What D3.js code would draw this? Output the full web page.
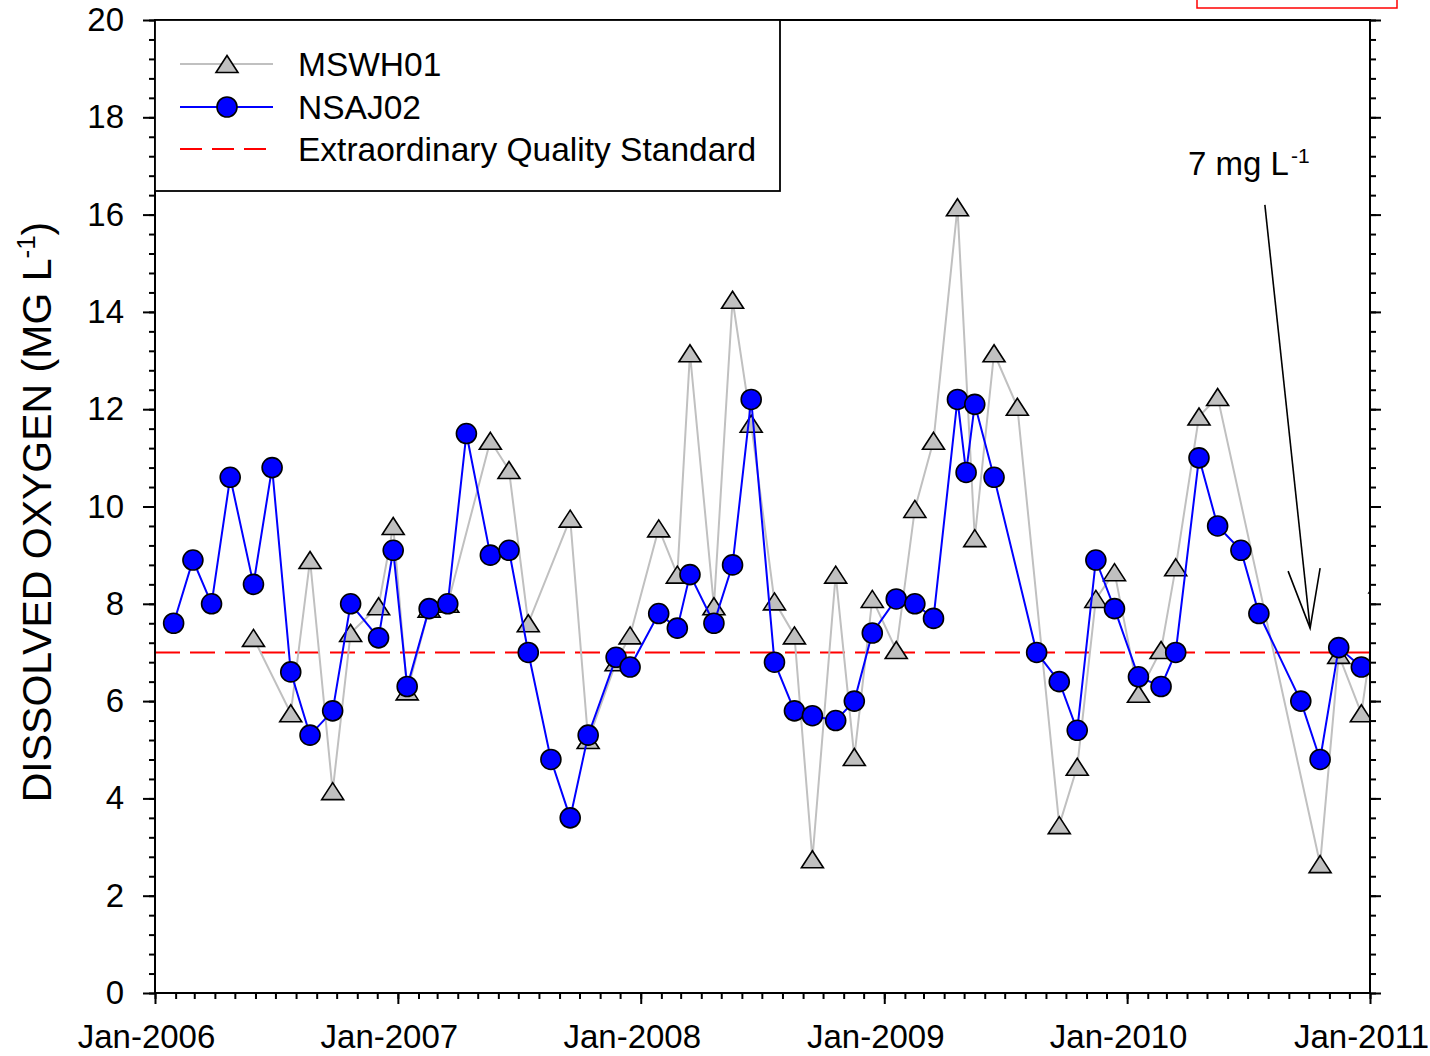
<!DOCTYPE html>
<html>
<head>
<meta charset="utf-8">
<script src="https://cdn.jsdelivr.net/npm/d3@7"></script>
<style>
  body { margin: 0; background: #fff; }
  svg { display: block; }
  text { font-family: "Liberation Sans", Arial, Helvetica, sans-serif; fill: #000; }
</style>
</head>
<body>
<svg id="chart" width="1430" height="1056"></svg>
<script>
// NSAJ02 sampling dates and dissolved oxygen (mg/L)
const nsajDates = [
  "2006-01-29", "2006-02-27", "2006-03-27", "2006-04-24", "2006-05-29", "2006-06-26",
  "2006-07-24", "2006-08-22", "2006-09-25", "2006-10-22", "2006-12-03", "2006-12-25",
  "2007-01-15", "2007-02-17", "2007-03-17", "2007-04-14", "2007-05-20", "2007-06-17",
  "2007-07-16", "2007-08-19", "2007-09-17", "2007-10-14", "2007-11-25", "2007-12-16",
  "2008-01-28", "2008-02-25", "2008-03-15", "2008-04-20", "2008-05-18", "2008-06-15",
  "2008-07-20", "2008-08-19", "2008-09-15", "2008-10-20", "2008-11-17", "2008-12-14",
  "2009-01-19", "2009-02-16", "2009-03-16", "2009-04-21", "2009-05-04", "2009-05-17",
  "2009-06-15", "2009-08-18", "2009-09-21", "2009-10-18", "2009-11-15", "2009-12-13",
  "2010-01-18", "2010-02-21", "2010-03-15", "2010-04-19", "2010-05-17", "2010-06-21",
  "2010-07-18", "2010-09-19", "2010-10-18", "2010-11-15", "2010-12-19"
];
const nsajValues = [
  7.6, 8.9, 8.0, 10.6, 8.4, 10.8,
  6.6, 5.3, 5.8, 8.0, 7.3, 9.1,
  6.3, 7.9, 8.0, 11.5, 9.0, 9.1,
  7.0, 4.8, 3.6, 5.3, 6.9, 6.7,
  7.8, 7.5, 8.6, 7.6, 8.8, 12.2,
  6.8, 5.8, 5.7, 5.6, 6.0, 7.4,
  8.1, 8.0, 7.7, 12.2, 10.7, 12.1,
  10.6, 7.0, 6.4, 5.4, 8.9, 7.9,
  6.5, 6.3, 7.0, 11.0, 9.6, 9.1,
  7.8, 6.0, 4.8, 7.1, 6.7
];

// MSWH01 sampling dates and dissolved oxygen (mg/L)
const mswhDates = [
  "2006-05-29", "2006-07-24", "2006-08-22", "2006-09-25", "2006-10-22", "2006-12-03",
  "2006-12-25", "2007-01-15", "2007-02-17", "2007-03-17", "2007-05-20", "2007-06-17",
  "2007-07-16", "2007-09-17", "2007-10-14", "2007-11-25", "2007-12-16", "2008-01-28",
  "2008-02-25", "2008-03-15", "2008-04-20", "2008-05-18", "2008-06-15", "2008-07-20",
  "2008-08-19", "2008-09-15", "2008-10-20", "2008-11-17", "2008-12-14", "2009-01-19",
  "2009-02-16", "2009-03-16", "2009-04-21", "2009-05-17", "2009-06-15", "2009-07-20",
  "2009-09-21", "2009-10-18", "2009-11-15", "2009-12-13", "2010-01-18", "2010-02-21",
  "2010-03-15", "2010-04-19", "2010-05-17", "2010-10-18", "2010-11-15", "2010-12-19",
  "2011-01-16"
];
const mswhValues = [
  7.3, 5.75, 8.9, 4.15, 7.4, 7.95,
  9.6, 6.2, 7.9, 8.0, 11.35, 10.75,
  7.6, 9.75, 5.2, 6.8, 7.35, 9.55,
  8.6, 13.15, 7.95, 14.25, 11.7, 8.05,
  7.35, 2.75, 8.6, 4.85, 8.1, 7.05,
  9.95, 11.35, 16.15, 9.35, 13.15, 12.05,
  3.45, 4.65, 8.1, 8.65, 6.15, 7.05,
  8.75, 11.85, 12.25, 2.65, 6.95, 5.75,
  8.4
];

const standardValue = 7;
const yMajorTicks = [0, 2, 4, 6, 8, 10, 12, 14, 16, 18, 20];
const xTickLabels = ["Jan-2006", "Jan-2007", "Jan-2008", "Jan-2009", "Jan-2010", "Jan-2011"];
const seriesNames = ["MSWH01", "NSAJ02", "Extraordinary Quality Standard"];

const parse = d3.timeParse("%Y-%m-%d");
const nsaj = nsajDates.map((d, i) => ({ date: parse(d), value: nsajValues[i] }));
const mswh = mswhDates.map((d, i) => ({ date: parse(d), value: mswhValues[i] }));

const plotLeft = 155, plotRight = 1370, plotTop = 20, plotBottom = 993;
const svg = d3.select("#chart");

const x = d3.scaleTime()
  .domain([new Date(2006, 0, 1), new Date(2011, 0, 1)])
  .range([plotLeft, plotRight]);
const y = d3.scaleLinear().domain([0, 20]).range([plotBottom, plotTop]);

// clip for the data
svg.append("defs").append("clipPath").attr("id", "plotclip")
  .append("rect")
  .attr("x", plotLeft).attr("y", plotTop)
  .attr("width", plotRight - plotLeft).attr("height", plotBottom - plotTop);

const line = d3.line().x(d => x(d.date)).y(d => y(d.value));
const triPath = "M0,-8.5L11,8.5L-11,8.5Z";

// red dashed standard line
svg.append("line")
  .attr("x1", plotLeft).attr("x2", plotRight)
  .attr("y1", y(standardValue)).attr("y2", y(standardValue))
  .attr("stroke", "#ff0000").attr("stroke-width", 2)
  .attr("stroke-dasharray", "25,10");

const plot = svg.append("g").attr("clip-path", "url(#plotclip)");

// MSWH01 - grey line with triangles
plot.append("path")
  .datum(mswh)
  .attr("d", line)
  .attr("fill", "none")
  .attr("stroke", "#c0c0c0")
  .attr("stroke-width", 2);

plot.selectAll(".tri")
  .data(mswh)
  .enter()
  .append("path")
  .attr("class", "tri")
  .attr("d", triPath)
  .attr("transform", d => "translate(" + x(d.date) + "," + y(d.value) + ")")
  .attr("fill", "#c0c0c0")
  .attr("stroke", "#000")
  .attr("stroke-width", 1.6);

// NSAJ02 - blue line with circles
plot.append("path")
  .datum(nsaj)
  .attr("d", line)
  .attr("fill", "none")
  .attr("stroke", "#0000ff")
  .attr("stroke-width", 2);

plot.selectAll(".dot")
  .data(nsaj)
  .enter()
  .append("circle")
  .attr("class", "dot")
  .attr("cx", d => x(d.date))
  .attr("cy", d => y(d.value))
  .attr("r", 10)
  .attr("fill", "#0000ff")
  .attr("stroke", "#000")
  .attr("stroke-width", 1.6);

// axes
const axisStyle = g => {
  g.selectAll(".domain").remove();
  g.selectAll("line").attr("stroke", "#000").attr("stroke-width", 2);
  g.selectAll("text").attr("font-size", "33px")
    .style("font-family", '"Liberation Sans", Arial, sans-serif');
};

// left y axis, major + minor
svg.append("g")
  .attr("transform", "translate(" + plotLeft + ",0)")
  .call(d3.axisLeft(y).tickValues(yMajorTicks).tickSize(12).tickPadding(19).tickFormat(d3.format("d")))
  .call(axisStyle);
svg.append("g")
  .attr("transform", "translate(" + plotLeft + ",0)")
  .call(d3.axisLeft(y).tickValues(d3.range(0, 20.001, 0.4)).tickSize(6).tickFormat(""))
  .call(axisStyle);

// right y axis, ticks outward
svg.append("g")
  .attr("transform", "translate(" + plotRight + ",0)")
  .call(d3.axisRight(y).tickValues(yMajorTicks).tickSize(11).tickFormat(""))
  .call(axisStyle);
svg.append("g")
  .attr("transform", "translate(" + plotRight + ",0)")
  .call(d3.axisRight(y).tickValues(d3.range(0, 20.001, 0.4)).tickSize(6).tickFormat(""))
  .call(axisStyle);

// bottom x axis
const years = d3.timeYear.range(new Date(2006, 0, 1), new Date(2011, 0, 2));
svg.append("g")
  .attr("transform", "translate(0," + plotBottom + ")")
  .call(d3.axisBottom(x).tickValues(years).tickSize(11).tickPadding(21)
    .tickFormat((d, i) => xTickLabels[i]))
  .call(axisStyle)
  .call(g => g.selectAll("text").attr("x", -9));
svg.append("g")
  .attr("transform", "translate(0," + plotBottom + ")")
  .call(d3.axisBottom(x).tickValues(d3.timeMonth.range(new Date(2006, 0, 1), new Date(2011, 0, 2))).tickSize(6).tickFormat(""))
  .call(axisStyle);

// frame
svg.append("rect")
  .attr("x", plotLeft).attr("y", plotTop)
  .attr("width", plotRight - plotLeft).attr("height", plotBottom - plotTop)
  .attr("fill", "none").attr("stroke", "#000").attr("stroke-width", 2);

// legend
const legend = svg.append("g");
legend.append("rect")
  .attr("x", plotLeft).attr("y", plotTop)
  .attr("width", 625).attr("height", 171)
  .attr("fill", "#fff").attr("stroke", "#000").attr("stroke-width", 1.8);

const legRows = [64, 107, 149];
legend.append("line").attr("x1", 180).attr("x2", 273).attr("y1", legRows[0]).attr("y2", legRows[0])
  .attr("stroke", "#c0c0c0").attr("stroke-width", 2);
legend.append("path").attr("d", triPath).attr("transform", "translate(227," + legRows[0] + ")")
  .attr("fill", "#c0c0c0").attr("stroke", "#000").attr("stroke-width", 1.6);
legend.append("line").attr("x1", 180).attr("x2", 273).attr("y1", legRows[1]).attr("y2", legRows[1])
  .attr("stroke", "#0000ff").attr("stroke-width", 2);
legend.append("circle").attr("cx", 227).attr("cy", legRows[1]).attr("r", 10)
  .attr("fill", "#0000ff").attr("stroke", "#000").attr("stroke-width", 1.6);
legend.append("line").attr("x1", 180).attr("x2", 268).attr("y1", legRows[2]).attr("y2", legRows[2])
  .attr("stroke", "#ff0000").attr("stroke-width", 2).attr("stroke-dasharray", "22,10");

legend.selectAll(".legtext")
  .data(seriesNames)
  .enter()
  .append("text")
  .attr("x", 298)
  .attr("y", (d, i) => legRows[i] + 11.5)
  .attr("font-size", "33.5px")
  .text(d => d);

// y axis title
const ytitle = svg.append("text")
  .attr("transform", "translate(51,512) rotate(-90)")
  .attr("text-anchor", "middle")
  .attr("font-size", "41px");
ytitle.append("tspan").text("DISSOLVED OXYGEN (MG L");
ytitle.append("tspan").attr("font-size", "26px").attr("dy", -16).text("-1");
ytitle.append("tspan").attr("dy", 16).text(")");

// 7 mg/L annotation with arrow
const note = svg.append("text").attr("x", 1188).attr("y", 175).attr("font-size", "33px");
note.append("tspan").text("7 mg L");
note.append("tspan").attr("font-size", "21px").attr("dx", 2).attr("dy", -12).text("-1");

const tipX = x(new Date(2010, 9, 3)), tipY = y(7.5);
const tailX = x(new Date(2010, 6, 27)), tailY = y(16.2);
svg.append("line")
  .attr("x1", tailX).attr("y1", tailY).attr("x2", tipX).attr("y2", tipY)
  .attr("stroke", "#000").attr("stroke-width", 1.6);
svg.append("path")
  .attr("d", "M" + (tipX - 22) + "," + (tipY - 57) + "L" + tipX + "," + tipY + "L" + (tipX + 10) + "," + (tipY - 60))
  .attr("fill", "none").attr("stroke", "#000").attr("stroke-width", 1.6);

// red box at the top right corner
svg.append("rect")
  .attr("x", 1197).attr("y", -10)
  .attr("width", 200).attr("height", 18)
  .attr("fill", "none").attr("stroke", "#ff0000").attr("stroke-width", 1.5);
</script>
</body>
</html>
